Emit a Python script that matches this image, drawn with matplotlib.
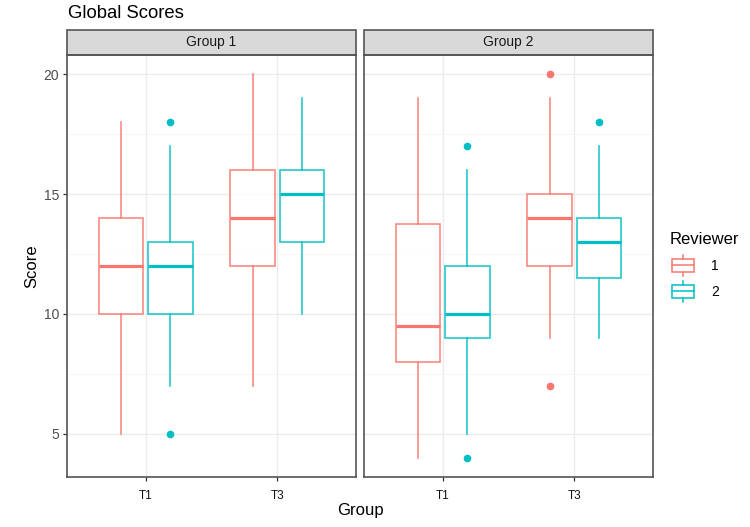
import numpy as np
import matplotlib.pyplot as plt
from matplotlib.patches import Rectangle, Patch
from matplotlib.lines import Line2D
from matplotlib.legend_handler import HandlerBase

plt.rcParams['font.family'] = ['Liberation Sans', 'DejaVu Sans']

groups = ["Group 1", "Group 2"]
times = ["T1", "T3"]
reviewers = ["1", "2"]
colors = ["#F8766D", "#00BFC4"]

# box order in each panel: T1-R1, T1-R2, T3-R1, T3-R2
g1_lo = [5, 7, 7, 10]
g1_q1 = [10, 10, 12, 13]
g1_med = [12, 12, 14, 15]
g1_q3 = [14, 13, 16, 16]
g1_hi = [18, 17, 20, 19]
g1_out = [[], [18, 5], [], []]

g2_lo = [4, 5, 9, 9]
g2_q1 = [8, 9, 12, 11.5]
g2_med = [9.5, 10, 14, 13]
g2_q3 = [13.75, 12, 15, 14]
g2_hi = [19, 16, 19, 17]
g2_out = [[], [17, 4], [20, 7], [18]]

panels = [
    (g1_lo, g1_q1, g1_med, g1_q3, g1_hi, g1_out),
    (g2_lo, g2_q1, g2_med, g2_q3, g2_hi, g2_out),
]


# %%
class BoxKey(HandlerBase):
    def create_artists(self, legend, orig_handle, xdescent, ydescent,
                       width, height, fontsize, trans):
        c = orig_handle.get_edgecolor()
        x0 = -xdescent + 0.08 * width
        x1 = -xdescent + 0.92 * width
        xm = (x0 + x1) / 2
        h = height
        y0 = -ydescent
        box = Rectangle((x0, y0 + 0.18 * h), x1 - x0, 0.64 * h, facecolor="white",
                        edgecolor=c, lw=1.1, transform=trans)
        med = Line2D([x0, x1], [y0 + 0.5 * h] * 2, color=c, lw=1.1, transform=trans)
        w1 = Line2D([xm, xm], [y0, y0 + 0.18 * h], color=c, lw=1.1, transform=trans)
        w2 = Line2D([xm, xm], [y0 + 0.82 * h, y0 + h], color=c, lw=1.1, transform=trans)
        return [box, med, w1, w2]


W, H = 750, 527
fig = plt.figure(figsize=(W / 100, H / 100), dpi=100)

lefts = [67, 364]
pw = 289
top, bottom = 55, 477
strip_h = 25

dodge = 0.1875
bw = 0.3375

for pi, (lo, q1, med, q3, hi, out) in enumerate(panels):
    ax = fig.add_axes([lefts[pi] / W, 1 - bottom / H, pw / W, (bottom - top) / H])
    ax.set_facecolor("white")
    k = 0
    for ti in range(len(times)):
        for ri in range(len(reviewers)):
            st = [dict(whislo=lo[k], q1=q1[k], med=med[k], q3=q3[k], whishi=hi[k],
                       fliers=out[k])]
            c = colors[ri]
            pos = ti + 1 + (ri - 0.5) * 2 * dodge
            ax.bxp(st, positions=[pos], widths=bw, showcaps=False, patch_artist=True,
                   boxprops=dict(facecolor="white", edgecolor=c, lw=1.2, alpha=0.85),
                   whiskerprops=dict(color=c, lw=1.2, alpha=0.85),
                   medianprops=dict(color=c, lw=2.3),
                   flierprops=dict(marker="o", markerfacecolor=c, markeredgecolor=c,
                                   markersize=4.5, linestyle="none"),
                   manage_ticks=False, zorder=3)
            k += 1

    ax.set_xlim(0.4, 2.6)
    ax.set_ylim(3.2, 20.8)
    ax.set_xticks([1, 2])
    ax.set_xticklabels(times, fontsize=8.5, color="#111111")
    ax.set_yticks([5, 10, 15, 20])
    ax.set_yticks([7.5, 12.5, 17.5], minor=True)
    ax.set_xticks([], minor=True)
    ax.grid(True, which="major", color="#EBEBEB", lw=1.0, zorder=0)
    ax.grid(True, which="minor", axis="y", color="#F4F4F4", lw=0.6, zorder=0)
    ax.set_axisbelow(True)
    for s in ax.spines.values():
        s.set_color("#555555")
        s.set_linewidth(1.2)
    ax.tick_params(which="major", length=3, width=0.9, color="#333333",
                   labelsize=10, labelcolor="#4D4D4D", pad=2.5)
    ax.tick_params(axis="x", labelsize=8.5, labelcolor="#111111", pad=6.5)
    ax.tick_params(which="minor", length=0)
    if pi == 0:
        ax.set_ylabel("Score", fontsize=12, color="black", labelpad=3)
    else:
        ax.set_yticklabels([])
        ax.tick_params(axis="y", length=0)

    sh = strip_h / (bottom - top)
    ax.add_patch(Rectangle((0, 1), 1, sh, transform=ax.transAxes, clip_on=False,
                           facecolor="#D9D9D9", edgecolor="#555555", lw=1.2))
    ax.text(0.5, 1 + sh / 2, groups[pi], transform=ax.transAxes, ha="center",
            va="center", fontsize=10, color="#1A1A1A")

fig.text(68 / W, 1 - 14 / H, "Global Scores", fontsize=13.3, ha="left", va="center")
fig.text((67 + 653) / 2 / W, 1 - 510 / H, "Group", fontsize=12, ha="center", va="center")

# legend: title as its own text so the gap to the keys matches
fig.text(670 / W, 1 - 239 / H, "Reviewer", fontsize=12, ha="left", va="center")
handles = [Patch(edgecolor=c, facecolor="white") for c in colors]
leg = fig.legend(handles, reviewers, handler_map={Patch: BoxKey()},
                 loc="upper left", bbox_to_anchor=(670 / W, 1 - 255 / H),
                 frameon=False, fontsize=10, handlelength=1.87,
                 handleheight=1.9, handletextpad=1.1, labelspacing=0.4,
                 borderpad=0, borderaxespad=0)

fig.savefig("out.png", dpi=100)
